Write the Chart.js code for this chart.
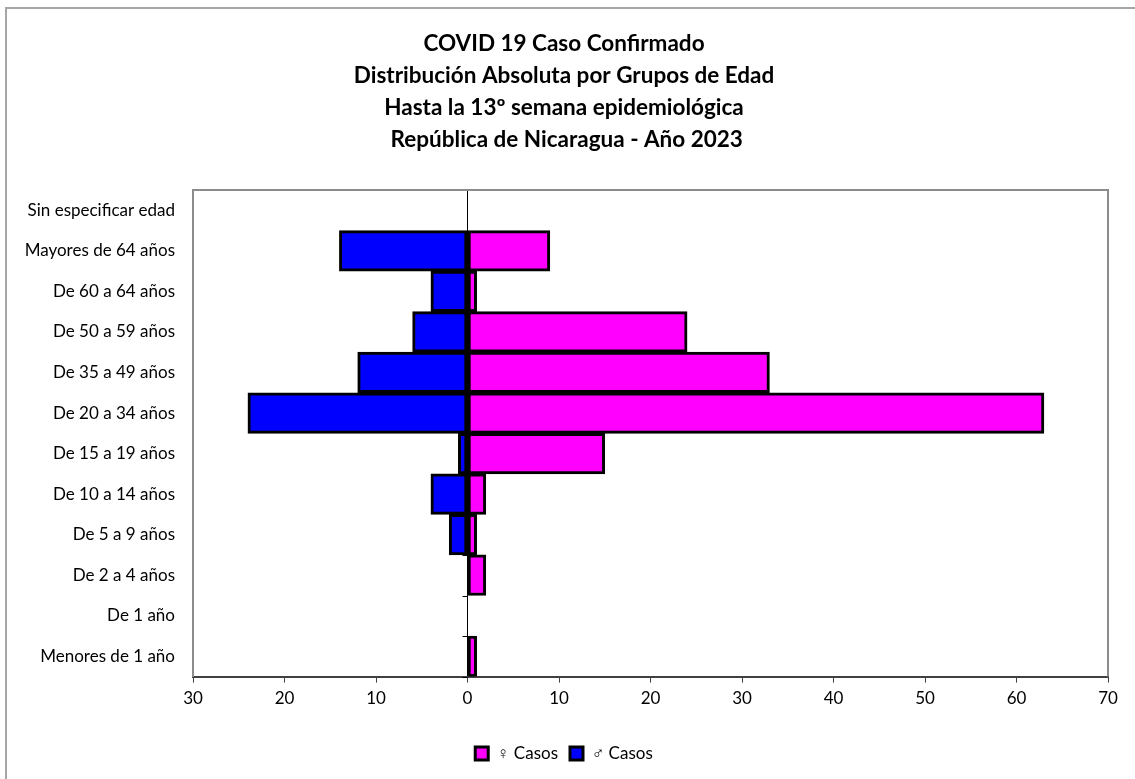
<!DOCTYPE html>
<html>
<head>
<meta charset="utf-8">
<script src="https://cdn.jsdelivr.net/npm/chart.js@4/dist/chart.umd.min.js"></script>
<style>
	body { margin: 0; background: #fff; }
	#wrap { position: relative; width: 1135px; height: 779px; overflow: hidden; }
	#frame { position: absolute; left: 5px; top: 7px; width: 1200px; height: 900px;
		border-left: 2px solid #a6a6a6; border-top: 2px solid #a6a6a6; }
	canvas { position: absolute; left: 0; top: 0; }
</style>
</head>
<body>
<div id="wrap">
	<div id="frame"></div>
	<canvas id="pyramid" width="1135" height="779"></canvas>
</div>
<script>
// grupos de edad, de arriba hacia abajo
var ageGroups = [
	'Sin especificar edad',
	'Mayores de 64 años',
	'De 60 a 64 años',
	'De 50 a 59 años',
	'De 35 a 49 años',
	'De 20 a 34 años',
	'De 15 a 19 años',
	'De 10 a 14 años',
	'De 5 a 9 años',
	'De 2 a 4 años',
	'De 1 año',
	'Menores de 1 año'
];
var femaleCases = [0, 9, 1, 24, 33, 63, 15, 2, 1, 2, 0, 1];
var maleCases = [0, 14, 4, 6, 12, 24, 1, 4, 2, 0, 0, 0];

var titleLines = [
	'COVID 19 Caso Confirmado',
	'Distribución Absoluta por Grupos de Edad',
	'Hasta la 13º semana epidemiológica',
	' República de Nicaragua - Año 2023'
];

const FONT = 'Lato, "Open Sans", sans-serif';

// borde gris del area de trazado (arriba, derecha) y marcas del eje en el cero
const plotFrame = {
	id: 'plotFrame',
	beforeDatasetsDraw(chart) {
		const ctx = chart.ctx;
		const x0 = chart.scales.x.getPixelForValue(0);
		const y = chart.scales.y;
		const half = (y.getPixelForValue(1) - y.getPixelForValue(0)) / 2;
		ctx.save();
		ctx.strokeStyle = '#000';
		ctx.lineWidth = 1;
		for (let i = 0; i <= ageGroups.length; i++) {
			var py = Math.round(y.getPixelForValue(i) - half) + 0.5;
			ctx.beginPath();
			ctx.moveTo(x0 - 5, py);
			ctx.lineTo(x0, py);
			ctx.stroke();
		}
		ctx.restore();
	},
	afterDraw(chart) {
		const ctx = chart.ctx;
		const a = chart.chartArea;
		ctx.save();
		ctx.strokeStyle = '#8c8c8c';
		ctx.lineWidth = 2;
		ctx.beginPath();
		ctx.moveTo(a.left, a.top);
		ctx.lineTo(a.right, a.top);
		ctx.lineTo(a.right, a.bottom);
		ctx.stroke();
		ctx.restore();
	}
};

const chart = new Chart(document.getElementById('pyramid'), {
	type: 'bar',
	data: {
		labels: ageGroups,
		datasets: [{
			label: '♀ Casos',
			data: femaleCases,
			backgroundColor: '#ff00ff',
			borderColor: '#000',
			borderWidth: 3,
			borderSkipped: false,
			barPercentage: 1,
			categoryPercentage: 1
		}, {
			label: '♂ Casos',
			data: maleCases.map(v => -v),
			backgroundColor: '#0000ff',
			borderColor: '#000',
			borderWidth: 3,
			borderSkipped: false,
			barPercentage: 1,
			categoryPercentage: 1
		}]
	},
	options: {
		indexAxis: 'y',
		responsive: false,
		animation: false,
		layout: { padding: { left: 20, right: 27, top: 0, bottom: 7 } },
		plugins: {
			title: {
				display: true,
				text: titleLines,
				color: '#000',
				font: { family: FONT, size: 22.5, weight: 'bold', lineHeight: 32 / 22.5 },
				padding: { top: 28, bottom: 34 }
			},
			legend: {
				position: 'bottom',
				labels: {
					color: '#000',
					font: { family: FONT, size: 17 },
					boxWidth: 13,
					boxHeight: 13,
					padding: 12
				}
			},
			tooltip: { enabled: false }
		},
		scales: {
			x: {
				stacked: true,
				min: -30,
				max: 70,
				ticks: {
					stepSize: 10,
					color: '#000',
					font: { family: FONT, size: 17 },
					padding: 6,
					callback: v => Math.abs(v)
				},
				grid: {
					color: c => c.tick && c.tick.value === 0 ? '#000' : 'rgba(0,0,0,0)',
					tickColor: '#404040',
					tickLength: 6,
					lineWidth: 1
				},
				border: { display: true, color: '#404040', width: 2 },
				afterFit: function (scale) { scale.height += 18; }
			},
			y: {
				stacked: true,
				ticks: {
					color: '#000',
					font: { family: FONT, size: 17 },
					padding: 10
				},
				grid: { display: false },
				border: { display: true, color: '#8c8c8c', width: 2 },
				afterFit: function (scale) { scale.width = 173; }
			}
		}
	},
	plugins: [plotFrame]
});
</script>
</body>
</html>
